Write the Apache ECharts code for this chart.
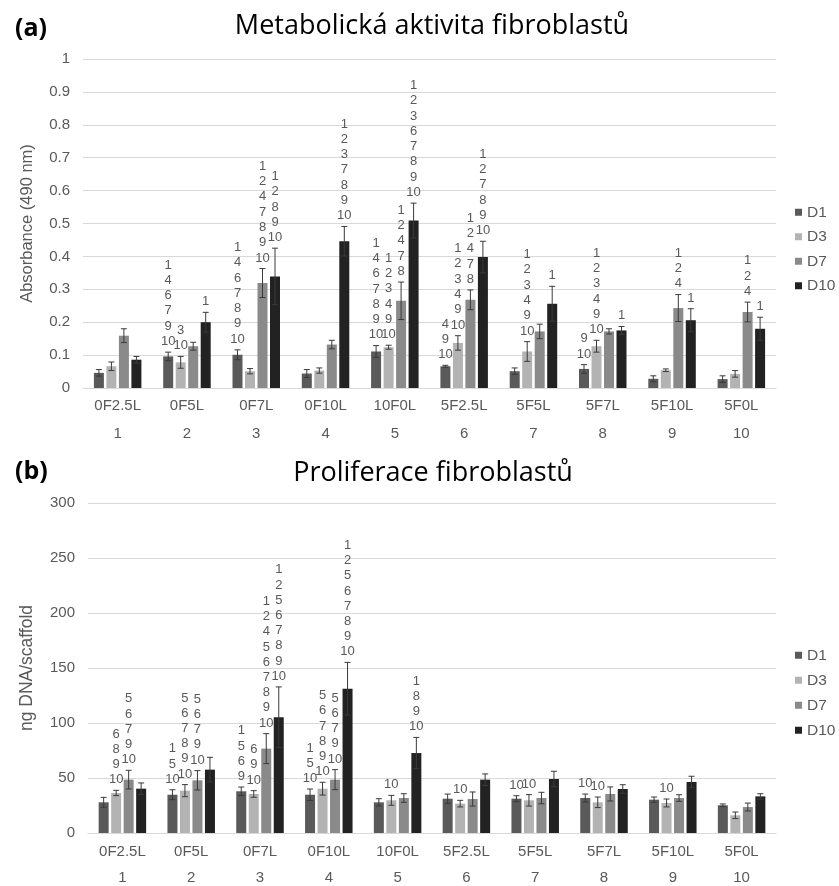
<!DOCTYPE html>
<html>
<head>
<meta charset="utf-8">
<script src="https://cdn.jsdelivr.net/npm/echarts@6/dist/echarts.min.js"></script>
<style>html,body{margin:0;padding:0;background:#fff}#c{width:839px;height:886px}</style>
</head>
<body>
<div id="c"></div>
<script>
const categories = ['0F2.5L','0F5L','0F7L','0F10L','10F0L','5F2.5L','5F5L','5F7L','5F10L','5F0L'];
const groupNumbers = ['1','2','3','4','5','6','7','8','9','10'];
const days = ['D1','D3','D7','D10'];
const yTicksA = {min: 0, max: 1, interval: 0.1};
const yTicksB = {min: 0, max: 300, interval: 50};

// Panel (a) – Absorbance (490 nm)
const absD1 = [0.046, 0.096, 0.101, 0.044, 0.111, 0.066, 0.051, 0.058, 0.028, 0.027];
const absD3 = [0.066, 0.078, 0.051, 0.053, 0.124, 0.137, 0.111, 0.127, 0.054, 0.043];
const absD7 = [0.159, 0.127, 0.319, 0.132, 0.265, 0.268, 0.172, 0.172, 0.243, 0.231];
const absD10 = [0.086, 0.200, 0.339, 0.446, 0.509, 0.398, 0.256, 0.175, 0.206, 0.180];
const absD1Err = [0.010, 0.013, 0.015, 0.012, 0.018, 0.003, 0.010, 0.013, 0.009, 0.010];
const absD3Err = [0.013, 0.018, 0.008, 0.008, 0.006, 0.022, 0.030, 0.018, 0.004, 0.010];
const absD7Err = [0.021, 0.012, 0.044, 0.013, 0.057, 0.030, 0.022, 0.008, 0.041, 0.030];
const absD10Err = [0.010, 0.030, 0.086, 0.045, 0.053, 0.048, 0.053, 0.012, 0.035, 0.035];
const absD1Sig = ['', '1 4 6 7 9 10', '1 4 6 7 8 9 10', '', '1 4 6 7 8 9 10', '4 9 10', '', '9 10', '', ''];
const absD3Sig = ['', '3 10', '', '', '1 2 3 4 9 10', '1 2 3 4 9 10', '1 2 3 4 9 10', '1 2 3 4 9 10', '', ''];
const absD7Sig = ['', '', '1 2 4 7 8 9 10', '', '1 2 4 7 8', '1 2 4 7 8', '', '', '1 2 4', '1 2 4'];
const absD10Sig = ['', '1', '1 2 8 9 10', '1 2 3 7 8 9 10', '1 2 3 6 7 8 9 10', '1 2 7 8 9 10', '1', '1', '1', '1'];

// Panel (b) – ng DNA/scaffold
const dnaD1 = [27.9, 34.8, 37.9, 34.8, 27.9, 31.2, 31.2, 31.8, 30.3, 25.2];
const dnaD3 = [36.4, 38.5, 35.5, 40.3, 29.7, 26.7, 29.7, 27.9, 27.3, 16.1];
const dnaD7 = [48.5, 47.9, 76.7, 48.5, 31.8, 30.9, 31.8, 35.5, 31.8, 23.6];
const dnaD10 = [40.3, 57.6, 105.2, 131.2, 72.7, 48.5, 49.1, 40.0, 46.4, 33.3];
const dnaD1Err = [4.5, 4.5, 3.9, 5.2, 3.3, 4.2, 2.7, 3.6, 2.4, 1.2];
const dnaD3Err = [2.4, 5.5, 3.0, 5.8, 4.5, 3.0, 5.2, 4.8, 3.6, 3.0];
const dnaD7Err = [8.5, 8.8, 13.6, 9.1, 3.9, 6.4, 5.2, 6.4, 3.0, 3.6];
const dnaD10Err = [5.2, 11.2, 27.6, 23.9, 14.2, 5.2, 7.0, 3.9, 5.2, 2.4];
const dnaD1Sig = ['', '1 5 10', '1 5 6 9', '1 5 10', '', '', '10', '10', '', ''];
const dnaD3Sig = ['6 8 9 10', '5 6 7 8 9 10', '6 9 10', '5 6 7 8 9 10', '10', '10', '10', '10', '10', ''];
const dnaD7Sig = ['5 6 7 9 10', '5 6 7 9 10', '1 2 4 5 6 7 8 9 10', '5 6 7 9 10', '', '', '', '', '', ''];
const dnaD10Sig = ['', '', '1 2 5 6 7 8 9 10', '1 2 5 6 7 8 9 10', '1 8 9 10', '', '', '', '', ''];

const colors = ['#5a5a5a', '#b3b3b3', '#8a8a8a', '#222222'];
const BAR_W = 10, BAR_GAP = 0.25;
const FONT = '"Liberation Sans", Arial, sans-serif';
const TITLE_FONT = '"Open Sans", Lato, sans-serif';
const TXT = '#595959';

const panelA = {vals: [absD1, absD3, absD7, absD10], errs: [absD1Err, absD3Err, absD7Err, absD10Err], sigs: [absD1Sig, absD3Sig, absD7Sig, absD10Sig]};
const panelB = {vals: [dnaD1, dnaD3, dnaD7, dnaD10], errs: [dnaD1Err, dnaD3Err, dnaD7Err, dnaD10Err], sigs: [dnaD1Sig, dnaD3Sig, dnaD7Sig, dnaD10Sig]};

function errSeries(panel, k, xIdx, yIdx, lineH) {
  const vals = panel.vals[k], errs = panel.errs[k], sigs = panel.sigs[k];
  return {
    type: 'custom', name: 'err' + xIdx + '_' + k, xAxisIndex: xIdx, yAxisIndex: yIdx,
    z: 5, clip: false, silent: true,
    data: vals.map((v, i) => [i, v, errs[i]]),
    renderItem: function (params, api) {
      const ci = api.value(0), v = api.value(1), e = api.value(2);
      const step = BAR_W * (1 + BAR_GAP);
      const off = (k - 1.5) * step;
      const c = api.coord([ci, v]);
      const x = c[0] + off;
      const yt = api.coord([ci, v + e])[1];
      const yb = api.coord([ci, Math.max(v - e, 0)])[1];
      const st = {stroke: '#3a3a3a', lineWidth: 1};
      const children = [
        {type: 'line', shape: {x1: x, y1: yt, x2: x, y2: yb}, style: st},
        {type: 'line', shape: {x1: x - 3, y1: yt, x2: x + 3, y2: yt}, style: st},
        {type: 'line', shape: {x1: x - 3, y1: yb, x2: x + 3, y2: yb}, style: st}
      ];
      const s = sigs[params.dataIndex];
      if (s) {
        children.push({
          type: 'text',
          style: {
            x: x, y: yt - 3, text: s.split(' ').join('\n'),
            fill: TXT, font: '13px ' + FONT, lineHeight: lineH,
            align: 'center', verticalAlign: 'bottom'
          }
        });
      }
      return {type: 'group', children: children};
    }
  };
}

function barSeries(panel, k, xIdx, yIdx) {
  return {
    type: 'bar', name: days[k], xAxisIndex: xIdx, yAxisIndex: yIdx,
    data: panel.vals[k], barWidth: BAR_W, barGap: (BAR_GAP * 100) + '%',
    itemStyle: {color: colors[k]}, silent: true
  };
}

const series = [];
for (let k = 0; k < 4; k++) series.push(barSeries(panelA, k, 0, 0));
for (let k = 0; k < 4; k++) series.push(barSeries(panelB, k, 2, 1));
for (let k = 0; k < 4; k++) series.push(errSeries(panelA, k, 0, 0, 15.3));
for (let k = 0; k < 4; k++) series.push(errSeries(panelB, k, 2, 1, 15.2));

function catAxis(grid, data, offset, showLine, margin) {
  return {
    type: 'category', gridIndex: grid, data: data, position: 'bottom', offset: offset,
    axisLine: {show: showLine, lineStyle: {color: '#d9d9d9'}},
    axisTick: {show: false},
    axisLabel: {color: TXT, fontSize: 15, fontFamily: FONT, margin: margin, interval: 0}
  };
}

const option = {
  animation: false,
  backgroundColor: '#fff',
  title: [
    {text: 'Metabolická aktivita fibroblastů', left: 427, top: 8, textAlign: 'center',
     textStyle: {fontFamily: TITLE_FONT, fontWeight: 'normal', fontSize: 27, color: '#000'}},
    {text: '(a)', left: 10, top: 11,
     textStyle: {fontFamily: TITLE_FONT, fontWeight: 'bold', fontSize: 25, color: '#000'}},
    {text: 'Proliferace fibroblastů', left: 428, top: 455, textAlign: 'center',
     textStyle: {fontFamily: TITLE_FONT, fontWeight: 'normal', fontSize: 27, color: '#000'}},
    {text: '(b)', left: 10, top: 454,
     textStyle: {fontFamily: TITLE_FONT, fontWeight: 'bold', fontSize: 25, color: '#000'}}
  ],
  legend: [
    {data: days, orient: 'vertical', left: 790, top: 199, icon: 'rect', itemWidth: 7, itemHeight: 7,
     itemGap: 8, selectedMode: false, textStyle: {color: TXT, fontSize: 15.5, fontFamily: FONT, lineHeight: 16.5}},
    {data: days, orient: 'vertical', left: 790, top: 642, icon: 'rect', itemWidth: 7, itemHeight: 7,
     itemGap: 8.5, selectedMode: false, textStyle: {color: TXT, fontSize: 15.5, fontFamily: FONT, lineHeight: 16.5}}
  ],
  grid: [
    {left: 83, right: 63, top: 59, height: 329},
    {left: 88, right: 63, top: 503, height: 330}
  ],
  xAxis: [
    catAxis(0, categories, 0, true, 10),
    catAxis(0, groupNumbers, 28, false, 10),
    catAxis(1, categories, 0, true, 11),
    catAxis(1, groupNumbers, 26, false, 11)
  ],
  yAxis: [
    {type: 'value', gridIndex: 0, min: yTicksA.min, max: yTicksA.max, interval: yTicksA.interval,
     name: 'Absorbance (490 nm)', nameLocation: 'middle', nameGap: 47,
     nameTextStyle: {color: TXT, fontSize: 16.5, fontFamily: FONT},
     axisLine: {show: false}, axisTick: {show: false},
     axisLabel: {color: TXT, fontSize: 15, fontFamily: FONT, margin: 13,
                 formatter: v => String(Math.round(v * 10) / 10)},
     splitLine: {lineStyle: {color: '#d9d9d9'}}},
    {type: 'value', gridIndex: 1, min: yTicksB.min, max: yTicksB.max, interval: yTicksB.interval,
     name: 'ng DNA/scaffold', nameLocation: 'middle', nameGap: 52,
     nameTextStyle: {color: TXT, fontSize: 17.5, fontFamily: FONT},
     axisLine: {show: false}, axisTick: {show: false},
     axisLabel: {color: TXT, fontSize: 15, fontFamily: FONT, margin: 13},
     splitLine: {lineStyle: {color: '#d9d9d9'}}}
  ],
  series: series
};

const chart = echarts.init(document.getElementById('c'), null, {renderer: 'canvas'});
chart.setOption(option);
</script>
</body>
</html>
